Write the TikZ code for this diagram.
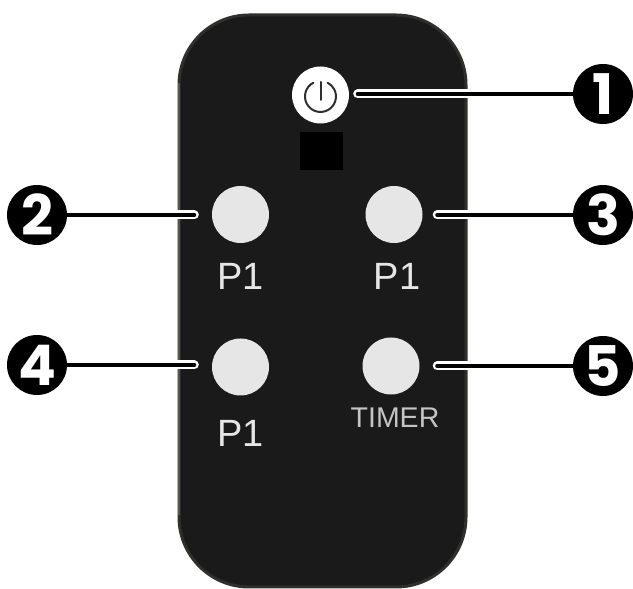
\documentclass[tikz,border=0pt]{standalone}
\usepackage{fontspec}
\setmainfont{Liberation Sans}
\newfontfamily\badgefont{Poppins}
\usetikzlibrary{shapes}
\definecolor{shell}{HTML}{1A1A1A}
\definecolor{rim}{HTML}{2F2F2D}
\definecolor{edge}{HTML}{55554A}
\definecolor{key}{HTML}{E6E6E6}
\pgfdeclarelayer{under}
\pgfsetlayers{under,main}
\tikzstyle{body}=[rectangle, rounded corners=70pt, draw=rim, line width=3pt, fill=shell, minimum width=287pt, minimum height=572pt, inner sep=0pt]
\tikzstyle{btn}=[circle, fill=key, minimum size=57pt, inner sep=0pt]
\tikzstyle{pwr}=[circle, fill=white, minimum size=57pt, inner sep=0pt]
\tikzstyle{sensor}=[rectangle, fill=black, minimum width=43pt, minimum height=38pt, inner sep=0pt]
\tikzstyle{badge}=[circle, fill=black, minimum size=60pt, inner sep=0pt, text=white, font=\badgefont\bfseries\fontsize{56}{56}\selectfont]
\tikzstyle{caption}=[text=key, inner sep=0pt, font=\fontsize{38}{38}\selectfont]
\tikzstyle{leader}=[draw=white, double=black, double distance=4pt, line width=2.5pt, line cap=round]
\begin{document}
\begin{tikzpicture}[x=1pt,y=1pt]
\useasboundingbox (0,0) rectangle (633,589);
\node [pwr] (power) at (320.5,494) {};
\node [sensor] (ir) at (321.5,438) {};
\node [btn] (k2) at (240.5,374.5) {};
\node [btn] (k3) at (394,374.5) {};
\node [btn] (k4) at (240.5,222) {};
\node [btn] (k5) at (391,223) {};
\node [caption] (c2) at (240.5,313) {P1};
\node [caption] (c3) at (397,313) {P1};
\node [caption] (c4) at (240.5,156) {P1};
\node [caption, text=key!85!black, font=\fontsize{28.5}{28.5}\selectfont] (c5) at (395,171) {TIMER};
\node [badge] (n1) at (603,495) {1};
\node [badge] (n2) at (37,374) {2};
\node [badge] (n3) at (603,374) {3};
\node [badge] (n4) at (37,224) {4};
\node [badge] (n5) at (603,223) {5};
% power glyph
\draw [rim, line width=2pt, line cap=round] (313.2,506.2) arc (118:422:15.5);
\draw [rim, line width=2pt, line cap=round] (320.5,507) -- (320.5,489);
\begin{pgfonlayer}{under}
\node [body] (remote) at (322.5,288) {};
\draw [edge, line width=2.5pt] (remote.north west) ++(1.5,-70) -- ++(0,-432);
\draw [leader, shorten >=8.5pt] (n1) -- (n1 -| power.east);
\draw [leader, shorten >=17.5pt] (n2) -- (n2 -| k2.west);
\draw [leader, shorten >=14.5pt] (n3) -- (n3 -| k3.east);
\draw [leader, shorten >=17.5pt] (n4) -- (n4 -| k4.west);
\draw [leader, shorten >=17.5pt] (n5) -- (n5 -| k5.east);
\end{pgfonlayer}
\end{tikzpicture}
\end{document}
